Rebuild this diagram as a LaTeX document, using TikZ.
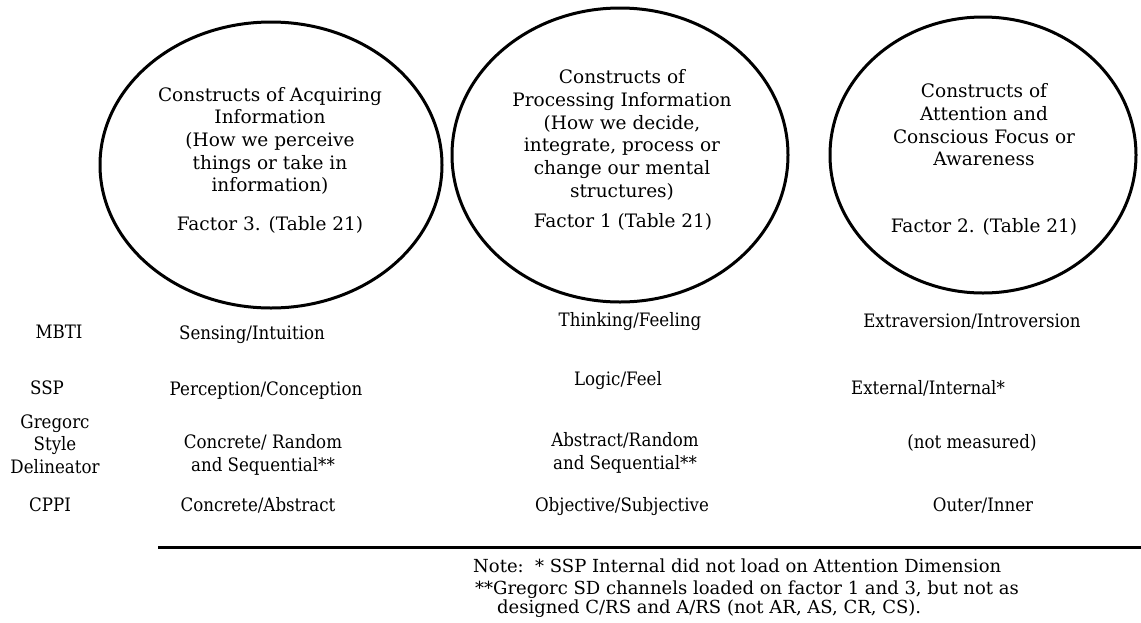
\documentclass[tikz,border=0pt]{standalone}
\usepackage{fontspec}
\setmainfont{DejaVu Serif}
\newfontfamily\rowfont[FakeStretch=0.9]{DejaVu Serif}
\usetikzlibrary{shapes.geometric}
\begin{document}
\begin{tikzpicture}[x=1pt,y=-1pt,
  bubble/.style={ellipse, draw, line width=3pt, inner sep=0pt, outer sep=0pt},
  txt/.style={font=\fontsize{18.5}{22.7}\selectfont, align=center, inner sep=0pt},
  cell/.style={txt, text height=14pt, text depth=4pt},
  rtxt/.style={font=\rowfont\fontsize{18.5}{22.7}\selectfont, align=center, inner sep=0pt},
  rcell/.style={rtxt, text height=14pt, text depth=4pt},
  note/.style={font=\fontsize{18}{21}\selectfont, inner sep=0pt, anchor=base west},
  rule/.style={line width=3pt}]
\useasboundingbox (0,0) rectangle (1141,622);
% bubbles
\node[bubble, minimum width=342pt, minimum height=286pt] (c1) at (271,165) {};
\node[bubble, minimum width=336pt, minimum height=294pt] (c2) at (620,155) {};
\node[bubble, minimum width=306pt, minimum height=276pt] (c3) at (983,155) {};
% bubble texts
\node[txt] (t1) at (270,141) {Constructs of Acquiring\\Information\\(How we perceive\\things or take in\\information)};
\node[cell] (f1) at (270,225) {Factor 3. (Table 21)};
\node[txt] (t2) at (622,135) {Constructs of\\Processing Information\\(How we decide,\\integrate, process or\\change our mental\\structures)};
\node[cell] (f2) at (623,222) {Factor 1 (Table 21)};
\node[txt] (t3) at (984,125) {Constructs of\\Attention and\\Conscious Focus or\\Awareness};
\node[cell] (f3) at (984,227) {Factor 2. (Table 21)};
% row labels
\node[rcell] (mbti) at (59,333) {MBTI};
\node[rcell] (ssp) at (47,389) {SSP};
\node[rtxt] (gsd) at (55,444) {Gregorc\\Style\\Delineator};
\node[rcell] (cppi) at (50,506) {CPPI};
% column 1
\node[rcell] (a1) at (252,334) {Sensing/Intuition};
\node[rcell] (a2) at (266,390) {Perception/Conception};
\node[rtxt] (a3) at (263,455) {Concrete/ Random\\and Sequential**};
\node[rcell] (a4) at (258,506) {Concrete/Abstract};
% column 2
\node[rcell] (b1) at (630,321) {Thinking/Feeling};
\node[rcell] (b2) at (618,380) {Logic/Feel};
\node[rtxt] (b3) at (625,453) {Abstract/Random\\and Sequential**};
\node[rcell] (b4) at (622,506) {Objective/Subjective};
% column 3
\node[rcell] (d1) at (972,322) {Extraversion/Introversion};
\node[rcell] (d2) at (928,389) {External/Internal*};
\node[rcell] (d3) at (972,443) {(not measured)};
\node[rcell] (d4) at (983,506) {Outer/Inner};
% rule
\coordinate (r1) at (158,547);
\coordinate (r2) at (1141,547);
\draw[rule] (r1) -- (r2);
% notes
\node[note] (n1) at (473,572) {Note:\ \ * SSP Internal did not load on Attention Dimension};
\node[note] (n2) at (475,594) {**Gregorc SD channels loaded on factor 1 and 3, but not as};
\node[note] (n3) at (497,613) {designed C/RS and A/RS (not AR, AS, CR, CS).};
\end{tikzpicture}
\end{document}
